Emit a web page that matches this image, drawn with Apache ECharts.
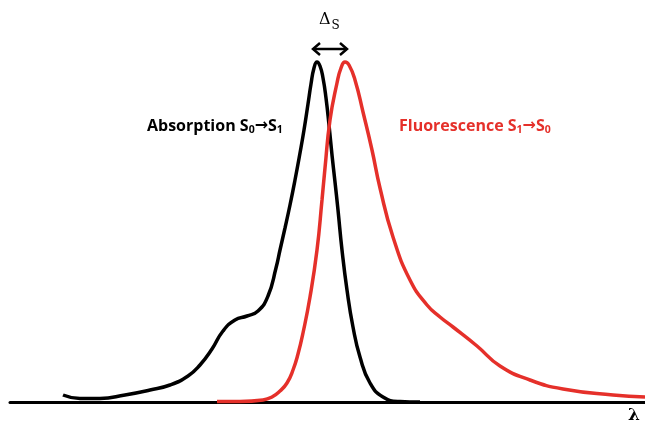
<!DOCTYPE html>
<html><head><meta charset="utf-8">
<script src="https://cdn.jsdelivr.net/npm/echarts@6/dist/echarts.min.js"></script>
<style>html,body{margin:0;padding:0;background:#fff}#c{width:645px;height:423px}</style>
</head><body><div id="c"></div>
<script>
// Wavelength positions (arbitrary units) and intensities (arbitrary units, peak = 340)
const absX = [63,80,100,125,150,170,188,200,212,223,235,247,258,268,276,280,285,290,295,300,304,308,311,314,317,320,323,326,329,332,335,338,342,347,353,360,370,383,400,420];
const absY = [7,3.5,3.5,7,12,17,26,37,53,71,82,86,91,106,134,152,174,197,222,249,272,298,318,334,340,336,324,304,277,247,220,192,152,112,75,45,19,5,0.5,0];
const fluX = [217,240,263,272,280,287,293,298,303,310,317,322,325,330,337,341,345,349,355,363,372,380,393,410,427,440,453,477,500,530,563,613,645];
const fluY = [0.5,0.5,2,5,11,19,32,48,69,105,152,202,234,282,319,334,340,337,322,290,252,214,165,122,97,85,75,56,36,22,13,7,5];
const absLabel = 'Absorption';
const fluLabel = 'Fluorescence';

const RED = '#e5302a';
const sub = (c) => ({fontFamily: 'Open Sans', fontWeight: 'bold', fontSize: 10.5, fill: c, padding: [9, 0, 0, 0]});
const main = (c) => ({fontFamily: 'Open Sans', fontWeight: 'bold', fontSize: 16, fill: c});
const arr = (c) => ({fontFamily: 'DejaVu Sans', fontWeight: 'bold', fontSize: 16, fill: c});
const chart = echarts.init(document.getElementById('c'));
chart.setOption({
  animation: false,
  grid: {left: 10, right: 0, top: 62, bottom: 21},
  xAxis: {type: 'value', min: 10, max: 645, axisLine: {lineStyle: {color: '#000', width: 3}},
          axisTick: {show: false}, axisLabel: {show: false}, splitLine: {show: false}},
  yAxis: {type: 'value', min: 0, max: 340, show: false},
  series: [
    {type: 'line', data: absX.map((x, i) => [x, absY[i]]), smooth: 0.5, showSymbol: false, clip: false,
     lineStyle: {color: '#000', width: 3.5}},
    {type: 'line', data: fluX.map((x, i) => [x, fluY[i]]), smooth: 0.5, showSymbol: false, clip: false,
     lineStyle: {color: RED, width: 3.5}}
  ],
  graphic: [
    {type: 'text', left: 147, top: 118, style: {
      text: '{a|' + absLabel + ' S}{s|0}{r|→}{a|S}{s|1}',
      rich: {a: main('#000'), s: sub('#000'), r: arr('#000')}}},
    {type: 'text', left: 399, top: 118, style: {
      text: '{a|' + fluLabel + ' S}{s|1}{r|→}{a|S}{s|0}',
      rich: {a: main(RED), s: sub(RED), r: arr(RED)}}},
    {type: 'text', left: 319, top: 12, style: {
      text: '{d|Δ}{s|S}',
      rich: {d: {fontFamily: 'DejaVu Serif', fontSize: 16, fill: '#000'},
             s: {fontFamily: 'DejaVu Serif', fontSize: 12, fill: '#000', padding: [12, 0, 0, 1]}}}},
    {type: 'polyline', shape: {points: [[313, 49], [347, 49]]}, style: {stroke: '#000', lineWidth: 2.5, fill: null}},
    {type: 'polyline', shape: {points: [[320, 43], [313, 49], [320, 55]]}, style: {stroke: '#000', lineWidth: 2.5, fill: null}},
    {type: 'polyline', shape: {points: [[340, 43], [347, 49], [340, 55]]}, style: {stroke: '#000', lineWidth: 2.5, fill: null}},
    {type: 'text', left: 628, top: 407, style: {text: 'λ', fontFamily: 'DejaVu Serif', fontWeight: 'bold', fontSize: 17, fill: '#000'}}
  ]
});
</script></body></html>
